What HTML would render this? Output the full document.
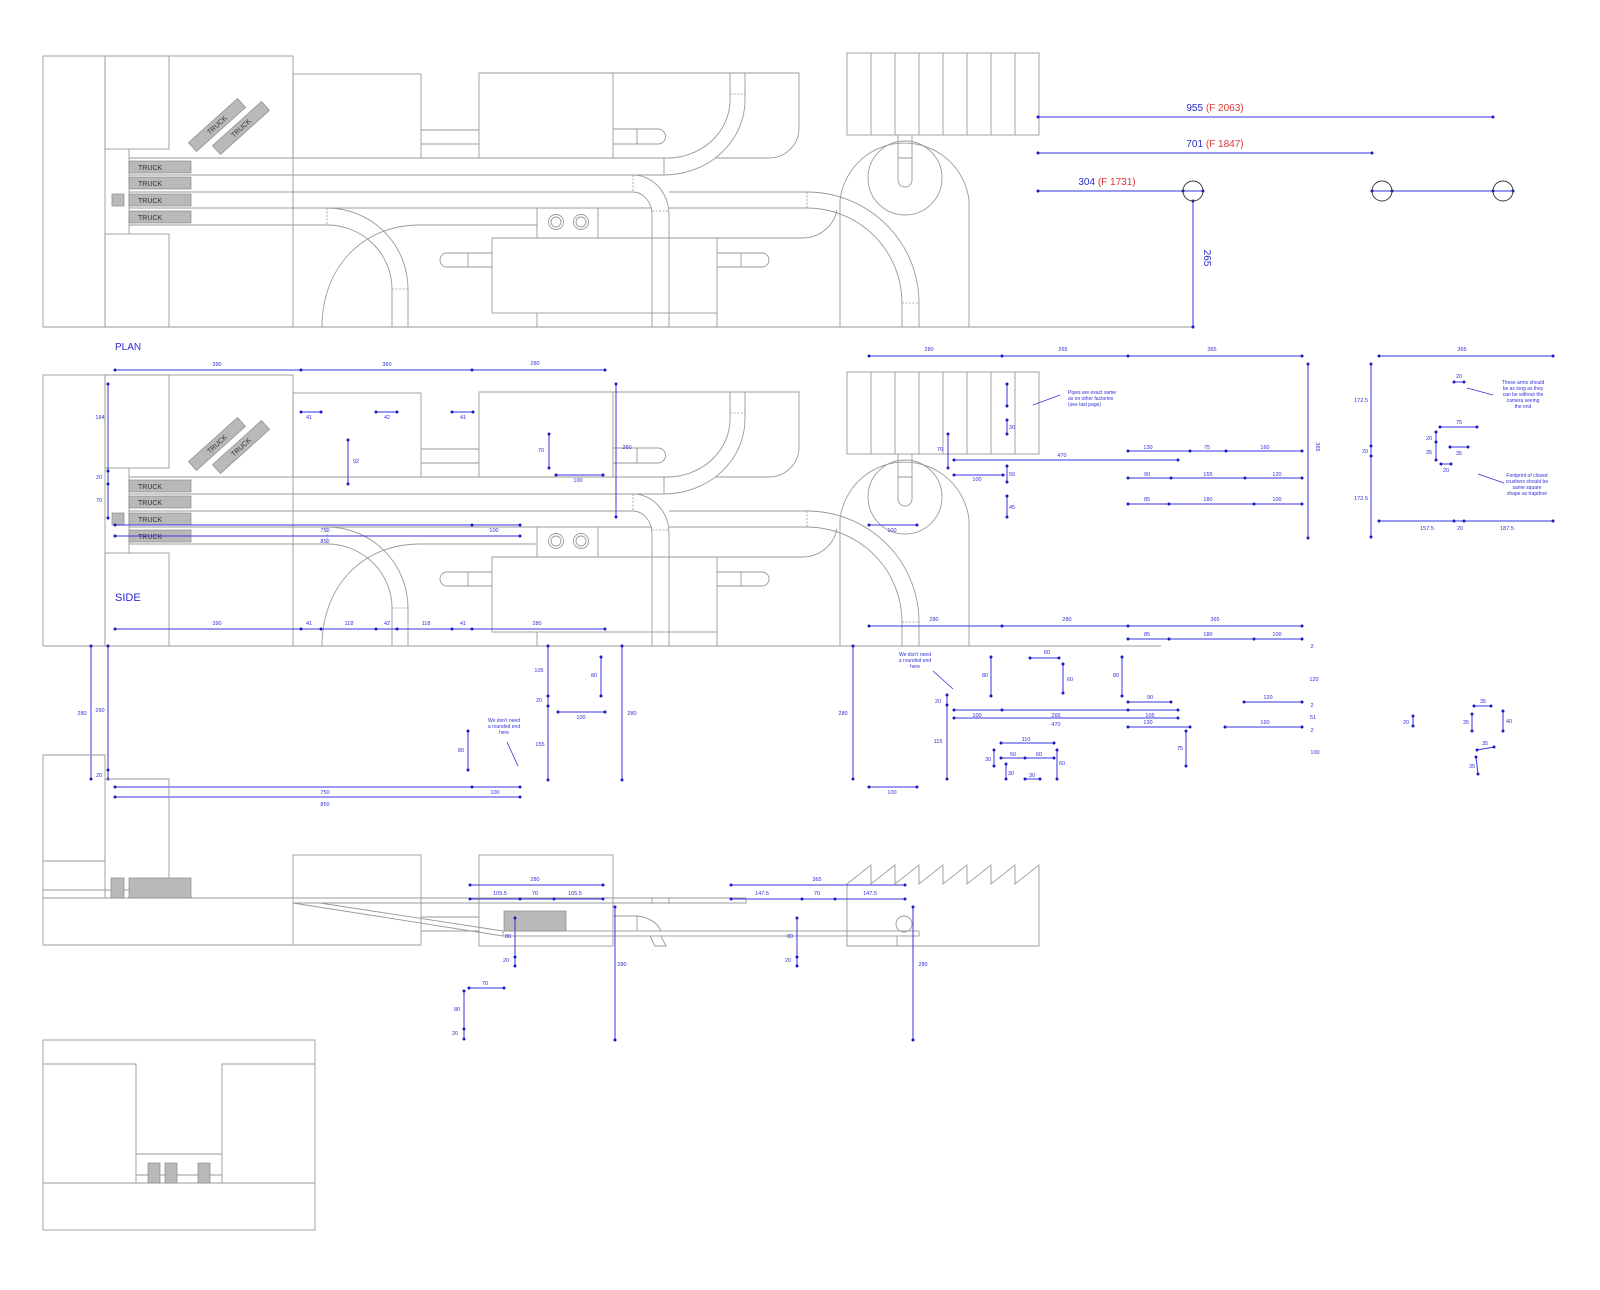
<!DOCTYPE html>
<html><head><meta charset="utf-8"><style>
html,body{margin:0;padding:0;background:#fff;width:1600px;height:1290px;overflow:hidden}
svg{display:block}
.t{font-family:"Liberation Sans",sans-serif;font-size:5.5px;fill:#3030d8;text-anchor:middle}
.n{font-family:"Liberation Sans",sans-serif;font-size:5px;fill:#3030d8;text-anchor:middle}
.big{font-family:"Liberation Sans",sans-serif;font-size:10px;fill:#2a2ad0;text-anchor:middle}
.lab{font-family:"Liberation Sans",sans-serif;font-size:10px;fill:#2a2ad0}
.tr{font-family:"Liberation Sans",sans-serif;font-size:7px;fill:#333}
.b{fill:none;stroke:#3535e0;stroke-width:1;marker-start:url(#d);marker-mid:url(#d);marker-end:url(#d)}
.l{fill:none;stroke:#3535e0;stroke-width:0.8}
</style></head><body>
<svg width="1600" height="1290" viewBox="0 0 1600 1290" xmlns="http://www.w3.org/2000/svg">
<defs>
<marker id="d" markerUnits="userSpaceOnUse" markerWidth="4" markerHeight="4" refX="2" refY="2"><circle cx="2" cy="2" r="1.5" fill="#1a1ac0"/></marker>
<g id="p">
<g fill="none" stroke="#9a9a9a" stroke-width="0.9">
<rect x="43" y="56" width="250" height="271"/>
<line x1="105" y1="56" x2="105" y2="327"/>
<rect x="105" y="56" width="64" height="93"/>
<rect x="105" y="234" width="64" height="93"/>
<line x1="129" y1="149" x2="129" y2="234"/>
<rect x="293" y="74" width="128" height="84"/>
<path d="M421,130H479M421,144H479"/>
<path d="M479,158V73H799V128A30,30 0 0 1 769,158H715"/>
<path d="M613,73V158"/>
<path d="M613,129H658A7.5,7.5 0 0 1 658,144H613M637,129V144"/>
<path d="M730,73V100A63,58 0 0 1 667,158M745,73V100A81,75 0 0 1 664,175M664,158V175"/>
<path d="M129,158H667M129,175H664M129,192H633M669,192H807M129,208H652M669,208H807M129,225H327"/>
<path d="M633,175A36,40 0 0 1 669,215V327M633,192A19,23 0 0 1 652,215V327"/>
<rect x="537" y="208" width="61" height="30"/>
<circle cx="556" cy="222" r="7.5"/><circle cx="556" cy="222" r="5"/>
<circle cx="581" cy="222" r="7.5"/><circle cx="581" cy="222" r="5"/>
<path d="M492,238H803A35,35 0 0 0 837,210"/>
<rect x="492" y="238" width="225" height="75"/>
<path d="M537,313V327M717,313V327"/>
<path d="M492,253H447A7,7 0 0 0 447,267H492M468,253V267"/>
<path d="M717,253H762A7,7 0 0 1 762,267H717M741,253V267"/>
<path d="M327,208A81,81 0 0 1 408,289V327M327,225A65,64 0 0 1 392,289V327"/>
<path d="M322,327C322,270 360,225 420,225H537"/>
<path d="M807,192A112,111 0 0 1 919,303V327M807,208A95,95 0 0 1 902,303V327"/>
<path d="M840,327V200A65,65 0 0 1 969,200V327"/>
<circle cx="905" cy="178" r="37"/>
<path d="M898,135V180A7,7 0 0 0 912,180V135M898,158H912"/>
<rect x="847" y="53" width="192" height="82"/>
<path d="M871,53V135M895,53V135M919,53V135M943,53V135M967,53V135M991,53V135M1015,53V135"/>
<line x1="43" y1="327" x2="969" y2="327"/>
</g>
<g fill="none" stroke="#9a9a9a" stroke-width="0.8" stroke-dasharray="2,1.5">
<path d="M730,94H745M633,175V192M652,211H669M327,208V225M392,289H408M807,192V208M902,303H919"/>
</g>
<g fill="#b9b9b9" stroke="#8a8a8a" stroke-width="0.7">
<rect x="129" y="161" width="62" height="12"/>
<rect x="129" y="177" width="62" height="12"/>
<rect x="129" y="194" width="62" height="12"/>
<rect x="129" y="211" width="62" height="12"/>
<rect x="112" y="194" width="12" height="12"/>
<rect x="184" y="119" width="66" height="12" transform="rotate(-42 217 125)"/>
<rect x="208" y="122" width="66" height="12" transform="rotate(-42 241 128)"/>
</g>
</g>
</defs>

<use href="#p"/>
<use href="#p" transform="translate(0,319)"/>

<!-- truck labels -->
<g class="tr">
<text x="138" y="170">TRUCK</text><text x="138" y="186">TRUCK</text><text x="138" y="203">TRUCK</text><text x="138" y="220">TRUCK</text>
<text x="217" y="127.5" text-anchor="middle" transform="rotate(-42 217 125)">TRUCK</text>
<text x="241" y="130.5" text-anchor="middle" transform="rotate(-42 241 128)">TRUCK</text>
<text x="138" y="489">TRUCK</text><text x="138" y="505">TRUCK</text><text x="138" y="522">TRUCK</text><text x="138" y="539">TRUCK</text>
<text x="217" y="446.5" text-anchor="middle" transform="rotate(-42 217 444)">TRUCK</text>
<text x="241" y="449.5" text-anchor="middle" transform="rotate(-42 241 447)">TRUCK</text>
</g>

<!-- extended ground lines -->
<g stroke="#9a9a9a" stroke-width="0.9"><line x1="969" y1="327" x2="1193" y2="327"/><line x1="969" y1="646" x2="1161" y2="646"/></g>

<!-- top-right dims -->
<polyline class="b" points="1038,117 1493,117"/>
<text class="big" x="1215" y="111">955 <tspan fill="#e03535">(F 2063)</tspan></text>
<polyline class="b" points="1038,153 1372,153"/>
<text class="big" x="1215" y="147">701 <tspan fill="#e03535">(F 1847)</tspan></text>
<polyline class="b" points="1038,191 1183,191 1203,191"/>
<text class="big" x="1107" y="185">304 <tspan fill="#e03535">(F 1731)</tspan></text>
<polyline class="b" points="1193,201 1193,327"/>
<text class="big" x="1200" y="262" transform="rotate(90 1204 262)">265</text>
<polyline class="b" points="1372,191 1392,191 1493,191 1513,191"/>
<g fill="none" stroke="#333" stroke-width="0.9"><circle cx="1193" cy="191" r="10"/><circle cx="1382" cy="191" r="10"/><circle cx="1503" cy="191" r="10"/></g>

<text class="lab" x="115" y="350">PLAN</text>
<text class="lab" x="115" y="601" style="font-size:11px">SIDE</text>

<!-- side-plan dims -->
<polyline class="b" points="115,370 301,370 472,370 605,370"/>
<text class="t" x="217" y="366">390</text><text class="t" x="387" y="366">360</text><text class="t" x="535" y="365">280</text>
<polyline class="b" points="108,384 108,471 108,484 108,518"/>
<text class="t" x="100" y="419">184</text><text class="t" x="99" y="479">20</text><text class="t" x="99" y="502">70</text>
<polyline class="b" points="301,412 321,412"/><text class="t" x="309" y="419">41</text>
<polyline class="b" points="376,412 397,412"/><text class="t" x="387" y="419">42</text>
<polyline class="b" points="452,412 473,412"/><text class="t" x="463" y="419">41</text>
<polyline class="b" points="348,440 348,484"/><text class="t" x="356" y="463">92</text>
<polyline class="b" points="549,434 549,468"/><text class="t" x="541" y="452">70</text>
<polyline class="b" points="556,475 603,475"/><text class="t" x="578" y="482">100</text>
<polyline class="b" points="616,384 616,517"/><text class="t" x="627" y="449">260</text>
<polyline class="b" points="115,525 472,525 520,525"/><text class="t" x="325" y="532">750</text><text class="t" x="494" y="532">100</text>
<polyline class="b" points="115,536 520,536"/><text class="t" x="325" y="543">850</text>
<polyline class="b" points="115,629 301,629 321,629 376,629 397,629 452,629 472,629 605,629"/>
<text class="t" x="217" y="625">390</text><text class="t" x="309" y="625">41</text><text class="t" x="349" y="625">118</text><text class="t" x="387" y="625">42</text><text class="t" x="426" y="625">118</text><text class="t" x="463" y="625">41</text><text class="t" x="537" y="625">280</text>

<polyline class="b" points="869,356 1002,356 1128,356 1302,356"/>
<text class="t" x="929" y="351">280</text><text class="t" x="1063" y="351">265</text><text class="t" x="1212" y="351">365</text>
<polyline class="b" points="1308,364 1308,538"/><text class="t" x="1314" y="449" transform="rotate(90 1316 449)">365</text>
<polyline class="b" points="1007,384 1007,406"/>
<polyline class="b" points="1007,420 1007,434"/><text class="t" x="1012" y="429">30</text>
<polyline class="b" points="1007,466 1007,482"/><text class="t" x="1012" y="476">50</text>
<polyline class="b" points="1007,496 1007,517"/><text class="t" x="1012" y="509">45</text>
<polyline class="b" points="948,434 948,468"/><text class="t" x="940" y="451">70</text>
<polyline class="b" points="954,460 1178,460"/><text class="t" x="1062" y="457">470</text>
<polyline class="b" points="954,475 1003,475"/><text class="t" x="977" y="481">100</text>
<line class="l" x1="1033" y1="405" x2="1060" y2="395"/>
<text class="n" x="1068" y="394" style="text-anchor:start">Pipes are exact same</text>
<text class="n" x="1068" y="400" style="text-anchor:start">as on other factories</text>
<text class="n" x="1068" y="406" style="text-anchor:start">(see last page)</text>
<polyline class="b" points="1128,451 1190,451 1226,451 1302,451"/>
<text class="t" x="1148" y="449">130</text><text class="t" x="1207" y="449">75</text><text class="t" x="1265" y="449">160</text>
<polyline class="b" points="1128,478 1171,478 1245,478 1302,478"/>
<text class="t" x="1147" y="476">90</text><text class="t" x="1208" y="476">155</text><text class="t" x="1277" y="476">120</text>
<polyline class="b" points="1128,504 1169,504 1254,504 1302,504"/>
<text class="t" x="1147" y="501">85</text><text class="t" x="1208" y="501">180</text><text class="t" x="1277" y="501">100</text>
<polyline class="b" points="869,525 917,525"/><text class="t" x="892" y="532">100</text>
<polyline class="b" points="869,626 1002,626 1128,626 1302,626"/>
<text class="t" x="934" y="621">280</text><text class="t" x="1067" y="621">280</text><text class="t" x="1215" y="621">365</text>
<polyline class="b" points="1128,639 1169,639 1254,639 1302,639"/>
<text class="t" x="1147" y="636">85</text><text class="t" x="1208" y="636">180</text><text class="t" x="1277" y="636">100</text>

<!-- far right box -->
<polyline class="b" points="1379,356 1553,356"/><text class="t" x="1462" y="351">365</text>
<polyline class="b" points="1371,364 1371,446 1371,456 1371,537"/>
<text class="t" x="1361" y="402">172.5</text><text class="t" x="1365" y="453">20</text><text class="t" x="1361" y="500">172.5</text>
<polyline class="b" points="1379,521 1454,521 1464,521 1553,521"/>
<text class="t" x="1427" y="530">157.5</text><text class="t" x="1460" y="530">20</text><text class="t" x="1507" y="530">187.5</text>
<polyline class="b" points="1454,382 1464,382"/><text class="t" x="1459" y="378">20</text>
<line class="l" x1="1467" y1="388" x2="1493" y2="395"/>
<text class="n" x="1523" y="384">These arms should</text><text class="n" x="1523" y="390">be as long as they</text><text class="n" x="1523" y="396">can be without the</text><text class="n" x="1523" y="402">camera seeing</text><text class="n" x="1523" y="408">the end</text>
<polyline class="b" points="1440,427 1477,427"/><text class="t" x="1459" y="424">75</text>
<polyline class="b" points="1436,432 1436,442 1436,460"/><text class="t" x="1429" y="440">20</text><text class="t" x="1429" y="454">35</text>
<polyline class="b" points="1450,447 1468,447"/><text class="t" x="1459" y="455">35</text>
<polyline class="b" points="1441,464 1451,464"/><text class="t" x="1446" y="472">20</text>
<line class="l" x1="1478" y1="474" x2="1504" y2="483"/>
<text class="n" x="1527" y="477">Footprint of closed</text><text class="n" x="1527" y="483">crushers should be</text><text class="n" x="1527" y="489">same square</text><text class="n" x="1527" y="495">shape as trapdoor</text>

<!-- middle dims -->
<polyline class="b" points="91,646 91,779"/><text class="t" x="82" y="715">280</text>
<polyline class="b" points="108,646 108,770 108,779"/><text class="t" x="100" y="712">260</text><text class="t" x="99" y="777">20</text>
<polyline class="b" points="115,787 472,787 520,787"/><text class="t" x="325" y="794">750</text><text class="t" x="495" y="794">100</text>
<polyline class="b" points="115,797 520,797"/><text class="t" x="325" y="806">850</text>
<polyline class="b" points="468,731 468,770"/><text class="t" x="461" y="752">80</text>
<text class="n" x="504" y="722">We don't need</text><text class="n" x="504" y="728">a rounded end</text><text class="n" x="504" y="734">here</text>
<line class="l" x1="507" y1="742" x2="518" y2="766"/>
<polyline class="b" points="548,646 548,696 548,706 548,780"/>
<text class="t" x="539" y="672">105</text><text class="t" x="539" y="702">20</text><text class="t" x="540" y="746">155</text>
<polyline class="b" points="601,657 601,696"/><text class="t" x="594" y="677">80</text>
<polyline class="b" points="558,712 605,712"/><text class="t" x="581" y="719">100</text>
<polyline class="b" points="622,646 622,780"/><text class="t" x="632" y="715">280</text>

<polyline class="b" points="853,646 853,779"/><text class="t" x="843" y="715">280</text>
<polyline class="b" points="869,787 917,787"/><text class="t" x="892" y="794">100</text>
<text class="n" x="915" y="656">We don't need</text><text class="n" x="915" y="662">a rounded end</text><text class="n" x="915" y="668">here</text>
<line class="l" x1="933" y1="671" x2="953" y2="689"/>
<polyline class="b" points="947,695 947,705 947,779"/><text class="t" x="938" y="703">20</text><text class="t" x="938" y="743">115</text>
<polyline class="b" points="991,657 991,696"/><text class="t" x="985" y="677">80</text>
<polyline class="b" points="1030,658 1059,658"/><text class="t" x="1047" y="654">60</text>
<polyline class="b" points="1063,664 1063,693"/><text class="t" x="1070" y="681">60</text>
<polyline class="b" points="1122,657 1122,696"/><text class="t" x="1116" y="677">80</text>
<polyline class="b" points="1128,702 1171,702"/><text class="t" x="1150" y="699">90</text>
<polyline class="b" points="954,710 1002,710 1128,710 1178,710"/>
<text class="t" x="977" y="717">100</text><text class="t" x="1056" y="717">265</text><text class="t" x="1150" y="717">105</text>
<polyline class="b" points="954,718 1178,718"/><text class="t" x="1056" y="726">470</text>
<polyline class="b" points="1128,727 1190,727"/><text class="t" x="1148" y="724">130</text>
<polyline class="b" points="1186,731 1186,766"/><text class="t" x="1180" y="750">75</text>
<polyline class="b" points="1244,702 1302,702"/><text class="t" x="1268" y="699">120</text>
<polyline class="b" points="1225,727 1302,727"/><text class="t" x="1265" y="724">160</text>
<text class="t" x="1312" y="648">2</text><text class="t" x="1314" y="681">120</text><text class="t" x="1312" y="707">2</text><text class="t" x="1313" y="719">51</text><text class="t" x="1312" y="732">2</text><text class="t" x="1315" y="754">100</text>
<polyline class="b" points="1001,743 1054,743"/><text class="t" x="1026" y="741">110</text>
<polyline class="b" points="994,750 994,766"/><text class="t" x="988" y="761">30</text>
<polyline class="b" points="1001,758 1025,758 1054,758"/><text class="t" x="1013" y="756">50</text><text class="t" x="1039" y="756">60</text>
<polyline class="b" points="1057,750 1057,779"/><text class="t" x="1062" y="765">60</text>
<polyline class="b" points="1006,764 1006,779"/><text class="t" x="1011" y="775">30</text>
<polyline class="b" points="1025,779 1040,779"/><text class="t" x="1032" y="777">30</text>

<polyline class="b" points="1413,716 1413,726"/><text class="t" x="1406" y="724">20</text>
<polyline class="b" points="1474,706 1491,706"/><text class="t" x="1483" y="703">35</text>
<polyline class="b" points="1472,714 1472,731"/><text class="t" x="1466" y="724">35</text>
<polyline class="b" points="1503,711 1503,731"/><text class="t" x="1509" y="723">40</text>
<polyline class="b" points="1477,750 1494,747"/><text class="t" x="1485" y="745">35</text>
<polyline class="b" points="1476,757 1478,774"/><text class="t" x="1472" y="768">35</text>

<!-- side elevation -->
<g fill="none" stroke="#9a9a9a" stroke-width="0.9">
<path d="M105,898V755H43V945H421"/>
<path d="M43,861H105M43,890H129"/>
<path d="M105,779H169V898"/>
<path d="M43,898H746V903H293M652,898V903M669,898V903"/>
<rect x="293" y="855" width="128" height="90"/>
<path d="M293,903L503,936M320,903L503,931"/>
<path d="M421,917H479M421,931H479"/>
<rect x="479" y="855" width="134" height="91"/>
<rect x="503" y="931" width="416" height="5"/>
<path d="M613,916H637Q655,918 661,931M637,916V931M650,936L655,946H666L661,936"/>
<path d="M847,946V884L871,865V884L895,865V884L919,865V884L943,865V884L967,865V884L991,865V884L1015,865V884L1039,865V946Z"/>
<circle cx="904" cy="924" r="8"/>
<path d="M897,936V946"/>
</g>
<g fill="#b9b9b9" stroke="#8a8a8a" stroke-width="0.7">
<rect x="111" y="878" width="13" height="20"/><rect x="129" y="878" width="62" height="20"/>
<rect x="504" y="911" width="62" height="20"/>
</g>
<polyline class="b" points="470,885 603,885"/><text class="t" x="535" y="881">280</text>
<polyline class="b" points="470,899 520,899 554,899 603,899"/>
<text class="t" x="500" y="895">105.5</text><text class="t" x="535" y="895">70</text><text class="t" x="575" y="895">105.5</text>
<polyline class="b" points="515,918 515,957 515,966"/><text class="t" x="508" y="938">80</text><text class="t" x="506" y="962">20</text>
<polyline class="b" points="615,907 615,1040"/><text class="t" x="622" y="966">280</text>
<polyline class="b" points="469,988 504,988"/><text class="t" x="485" y="985">70</text>
<polyline class="b" points="464,991 464,1029 464,1039"/><text class="t" x="457" y="1011">80</text><text class="t" x="455" y="1035">20</text>
<polyline class="b" points="731,885 905,885"/><text class="t" x="817" y="881">365</text>
<polyline class="b" points="731,899 802,899 835,899 905,899"/>
<text class="t" x="762" y="895">147.5</text><text class="t" x="817" y="895">70</text><text class="t" x="870" y="895">147.5</text>
<polyline class="b" points="797,918 797,957 797,966"/><text class="t" x="790" y="938">80</text><text class="t" x="788" y="962">20</text>
<polyline class="b" points="913,907 913,1040"/><text class="t" x="923" y="966">280</text>

<!-- bottom elevation -->
<g fill="none" stroke="#9a9a9a" stroke-width="0.9">
<rect x="43" y="1040" width="272" height="190"/>
<path d="M43,1064H136V1183M315,1064H222V1183M43,1183H315M136,1154H222M136,1175H222"/>
</g>
<g fill="#b9b9b9" stroke="#8a8a8a" stroke-width="0.7">
<rect x="148" y="1163" width="12" height="20"/><rect x="165" y="1163" width="12" height="20"/><rect x="198" y="1163" width="12" height="20"/>
</g>
</svg>
</body></html>
